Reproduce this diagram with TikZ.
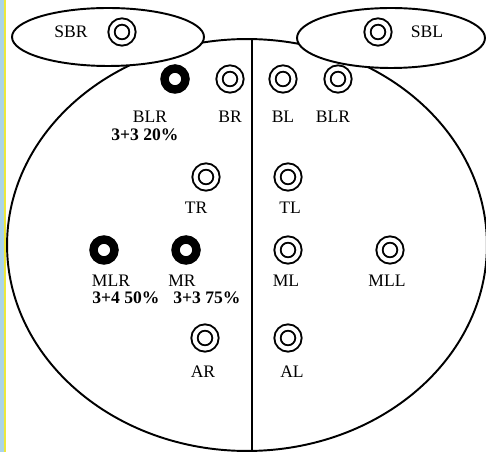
\documentclass[tikz,border=0pt]{standalone}
\usepackage{fontspec}
\setmainfont{Liberation Serif}
\usepackage{tikz}
\definecolor{stripblue}{RGB}{170,212,232}
\definecolor{stripyellow}{RGB}{236,232,60}

\begin{document}
\begin{tikzpicture}[x=0.02cm, y=-0.02cm,
		target/.style={circle, draw, inner sep=0pt, outer sep=0pt, minimum size=0.42cm, line width=1.1pt, double, double distance=2.4pt},
		hit/.style={circle, draw, fill=white, inner sep=0pt, outer sep=0pt, minimum size=0.42cm, line width=4.8pt},
		lbl/.style={font=\fontsize{10}{11}\selectfont, inner sep=1pt},
		score/.style={font=\fontsize{10}{11}\selectfont\bfseries, inner sep=1pt}]
			\useasboundingbox (0,0) rectangle (486,452);
			\fill[stripblue] (0,0) rectangle (3.5,452);
			\fill[stripyellow] (3.5,0) rectangle (5.5,452);
			\draw[line width=1.1pt] (247,245) ellipse [x radius=4.8cm, y radius=4.12cm];
			\draw[line width=1.1pt, fill=white] (108,37) ellipse [x radius=1.92cm, y radius=0.58cm];
			\draw[line width=1.1pt, fill=white] (391,38) ellipse [x radius=1.88cm, y radius=0.6cm];
			\coordinate (top) at (252,39);
			\coordinate (bot) at (252,451);
			\draw[line width=1.1pt] (top) -- (bot);
			% seminal
			\node[target] (sbr) at (122,32) {};
			\node[lbl] (sbrl) at (71,32) {SBR};
			\node[target] (sbl) at (378,32) {};
			\node[lbl] (sbll) at (427,32) {SBL};
			% base
			\node[hit] (blr1) at (175,79) {};
			\node[target] (br) at (230,79) {};
			\node[target] (bl) at (283,79) {};
			\node[target] (blr2) at (338,79) {};
			\node[lbl] (blr1l) at (150,117) {BLR};
			\node[score] (blr1s) at (145,135) {3+3 20\%};
			\node[lbl] (brl) at (230,117) {BR};
			\node[lbl] (bll) at (283,117) {BL};
			\node[lbl] (blr2l) at (333,117) {BLR};
			% transition
			\node[target] (tr) at (206,177) {};
			\node[target] (tl) at (288,177) {};
			\node[lbl] (trl) at (196,208) {TR};
			\node[lbl] (tll) at (290,208) {TL};
			% mid
			\node[hit] (mlr) at (104,250) {};
			\node[hit] (mr) at (186,250) {};
			\node[target] (ml) at (288,250) {};
			\node[target] (mll) at (390,250) {};
			\node[lbl] (mlrl) at (111,281) {MLR};
			\node[lbl] (mrl) at (182,281) {MR};
			\node[lbl] (mll2) at (286,281) {ML};
			\node[lbl] (mlll) at (387,281) {MLL};
			\node[score] (mlrs) at (126,298) {3+4 50\%};
			\node[score] (mrs) at (207,298) {3+3 75\%};
			% apex
			\node[target] (ar) at (205,338) {};
			\node[target] (al) at (288,338) {};
			\node[lbl] (arl) at (203,372) {AR};
			\node[lbl] (all) at (292,372) {AL};
		\end{tikzpicture}
\end{document}
